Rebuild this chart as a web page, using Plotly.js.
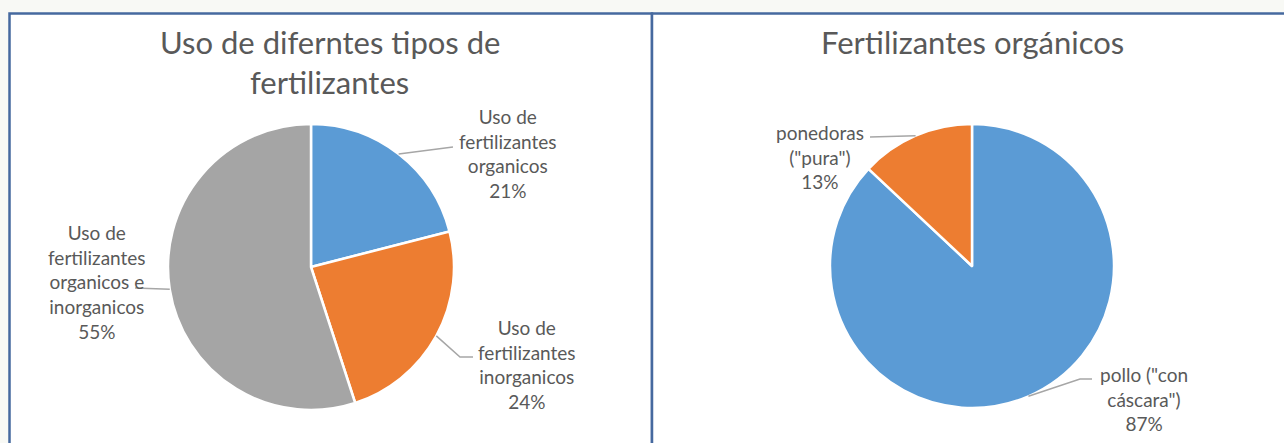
<!DOCTYPE html>
<html>
<head>
<meta charset="utf-8">
<script src="https://cdn.plot.ly/plotly-3.0.1.min.js"></script>
<style>
html,body{margin:0;padding:0;background:#f8f9f5;}
#chart{width:1284px;height:443px;}
</style>
</head>
<body>
<div id="chart"></div>
<script>
// ---- data ----
const pie1Title = ['Uso de diferntes tipos de', 'fertilizantes'];
const pie1Labels = ['Uso de fertilizantes organicos', 'Uso de fertilizantes inorganicos', 'Uso de fertilizantes organicos e inorganicos'];
const pie1LabelLines = [['Uso de', 'fertilizantes', 'organicos'], ['Uso de', 'fertilizantes', 'inorganicos'], ['Uso de', 'fertilizantes', 'organicos e', 'inorganicos']];
const pie1Values = [21, 24, 55];
const pie1Colors = ['#5b9bd5', '#ed7d31', '#a5a5a5'];

const pie2Title = ['Fertilizantes orgánicos'];
const pie2Labels = ['pollo ("con cáscara")', 'ponedoras ("pura")'];
const pie2LabelLines = [['pollo ("con', 'cáscara")'], ['ponedoras', '("pura")']];
const pie2Values = [87, 13];
const pie2Colors = ['#5b9bd5', '#ed7d31'];

// ---- layout constants (pixels) ----
const W = 1284, H = 443;
const px = x => x / W;
const py = y => 1 - y / H;

const pies = [
  {cx: 311, cy: 267, r: 143, labels: pie1Labels, lines: pie1LabelLines, values: pie1Values, colors: pie1Colors,
   title: pie1Title, titleX: 330, titleY: [42, 82],
   labelPos: [[508, 154], [527, 364], [97, 282]],
   leader: [[[453, 147]], [[460, 357], [473, 357]], [[135, 288]]]},
  {cx: 972, cy: 266, r: 142, labels: pie2Labels, lines: pie2LabelLines, values: pie2Values, colors: pie2Colors,
   title: pie2Title, titleX: 972, titleY: [42],
   labelPos: [[1144, 399], [820, 157]],
   leader: [[[1080, 379], [1092, 379]], [[870, 137]]]}
];

const textColor = '#595959';
const font = 'Lato, "Open Sans", sans-serif';
const traces = [];
const annotations = [];
const shapes = [
  {type: 'rect', xref: 'paper', yref: 'paper', x0: px(9.5), x1: px(652), y0: py(13.5), y1: py(460),
   fillcolor: '#ffffff', line: {color: '#46699f', width: 2.5}, layer: 'below'},
  {type: 'rect', xref: 'paper', yref: 'paper', x0: px(652), x1: px(1300), y0: py(13.5), y1: py(460),
   fillcolor: '#ffffff', line: {color: '#46699f', width: 2.5}, layer: 'below'}
];

pies.forEach(p => {
  traces.push({
    type: 'pie', labels: p.labels, values: p.values, sort: false, direction: 'clockwise', rotation: 0,
    marker: {colors: p.colors, line: {color: '#ffffff', width: 2.5}},
    textinfo: 'none', hoverinfo: 'label+percent', showlegend: false,
    domain: {x: [px(p.cx - p.r), px(p.cx + p.r)], y: [py(p.cy + p.r), py(p.cy - p.r)]}
  });
  p.title.forEach((t, i) => annotations.push({
    text: t, x: px(p.titleX), y: py(p.titleY[i]), xref: 'paper', yref: 'paper',
    xanchor: 'center', yanchor: 'middle', showarrow: false,
    font: {family: font, size: 31, color: textColor}
  }));
  const total = p.values.reduce((a, b) => a + b, 0);
  let cum = 0;
  p.values.forEach((v, i) => {
    const mid = (cum + v / 2) / total * 2 * Math.PI;
    cum += v;
    const sx = p.cx + p.r * Math.sin(mid), sy = p.cy - p.r * Math.cos(mid);
    const pct = Math.round(v / total * 100) + '%';
    const txt = p.lines[i].concat([pct]).join('<br>');
    annotations.push({
      text: txt, x: px(p.labelPos[i][0]), y: py(p.labelPos[i][1]), xref: 'paper', yref: 'paper',
      xanchor: 'center', yanchor: 'middle', showarrow: false, align: 'center',
      font: {family: font, size: 19, color: textColor}
    });
    let path = 'M' + px(sx) + ',' + py(sy);
    p.leader[i].forEach(pt => { path += ' L' + px(pt[0]) + ',' + py(pt[1]); });
    shapes.push({type: 'path', xref: 'paper', yref: 'paper', path: path,
      line: {color: '#a6a6a6', width: 1.5}, layer: 'above'});
  });
});

const layout = {
  width: W, height: H,
  margin: {l: 0, r: 0, t: 0, b: 0},
  paper_bgcolor: 'rgba(0,0,0,0)', plot_bgcolor: 'rgba(0,0,0,0)',
  font: {family: font, color: textColor},
  annotations: annotations, shapes: shapes, showlegend: false
};
Plotly.newPlot('chart', traces, layout, {displayModeBar: false, staticPlot: true});
</script>
</body>
</html>
